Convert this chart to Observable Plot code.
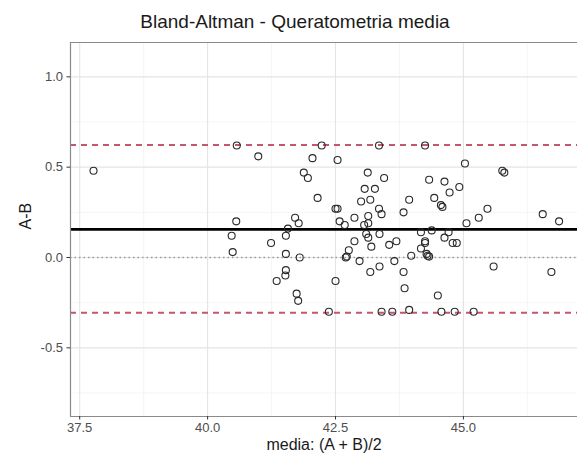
<!DOCTYPE html>
<html><head><meta charset="utf-8">
<script src="https://cdn.jsdelivr.net/npm/d3@7"></script>
<script src="https://cdn.jsdelivr.net/npm/@observablehq/plot@0.6"></script>
<style>
body{margin:0;background:#fff;overflow:hidden;font-family:"Liberation Sans",Arial,sans-serif;}
#title{width:590px;height:36px;box-sizing:border-box;padding-top:12px;font-size:19px;line-height:19px;text-align:center;color:#1a1a1a;white-space:nowrap;}
#chart svg{display:block;}
</style></head><body>
<div id="title">Bland-Altman - Queratometria media</div>
<div id="chart"></div>
<script>
const mediaAB = [37.77,40.57,40.99,42.05,42.54,42.23,41.88,41.96,42.15,42.50,42.54,43.13,43.45,43.07,43.27,43.00,43.18,43.35,44.25,43.94,
  43.83,43.35,43.40,43.14,42.87,42.58,42.68,43.06,43.14,40.56,40.47,40.49,41.71,41.78,41.57,41.53,41.24,41.53,41.80,41.53,
  41.52,41.35,41.74,41.77,42.37,43.10,43.14,43.36,42.87,43.20,43.55,43.69,42.76,42.70,42.72,42.97,43.65,43.98,44.17,44.25,
  44.17,44.28,43.18,43.36,43.83,42.50,43.85,43.40,43.61,43.94,45.03,45.76,45.80,44.33,44.63,44.92,44.73,44.43,44.56,44.59,
  45.47,45.30,46.55,46.87,45.06,44.38,44.71,44.63,44.79,44.87,44.25,44.30,44.33,45.59,46.72,44.50,44.57,44.83,45.20];
const diffAB = [0.48,0.62,0.56,0.55,0.54,0.62,0.47,0.44,0.33,0.27,0.27,0.47,0.44,0.38,0.38,0.31,0.32,0.62,0.62,0.32,
  0.25,0.27,0.24,0.23,0.22,0.20,0.18,0.18,0.19,0.20,0.12,0.03,0.22,0.19,0.16,0.12,0.08,0.02,0.00,-0.07,
  -0.10,-0.13,-0.20,-0.24,-0.30,0.13,0.11,0.13,0.09,0.06,0.07,0.09,0.04,0.00,0.005,-0.02,-0.02,0.01,0.14,0.09,
  0.05,0.02,-0.08,-0.05,-0.08,-0.13,-0.17,-0.30,-0.30,-0.29,0.52,0.48,0.47,0.43,0.42,0.39,0.36,0.33,0.29,0.28,
  0.27,0.22,0.24,0.20,0.19,0.15,0.14,0.11,0.08,0.08,0.08,0.01,0.005,-0.05,-0.08,-0.21,-0.30,-0.30,-0.30];
const meanDiff = 0.156;
const upperLoA = 0.622;
const lowerLoA = -0.306;
const zeroLine = 0;
const xTicks = [37.5, 40, 42.5, 45];
const yTicks = [-0.5, 0, 0.5, 1.0];
const xMinor = [38.75, 41.25, 43.75, 46.25];
const yMinor = [-0.75, -0.25, 0.25, 0.75];
const xDomain = [37.32, 47.23];
const yDomain = [-0.88, 1.19];
const xLabel = "media: (A + B)/2";
const yLabel = "A-B";

const points = mediaAB.map((m, i) => ({media: m, diff: diffAB[i]}));

const chart = Plot.plot({
  width: 577,
  height: 425,
  marginLeft: 70,
  marginRight: 0,
  marginTop: 6,
  marginBottom: 45,
  style: {fontFamily: "'Liberation Sans', Arial, sans-serif", fontSize: "13px", color: "#4d4d4d", background: "#fff"},
  x: {domain: xDomain},
  y: {domain: yDomain},
  marks: [
    Plot.ruleX(xMinor, {stroke: "#f0f0f0", strokeWidth: 0.7}),
    Plot.ruleY(yMinor, {stroke: "#f0f0f0", strokeWidth: 0.7}),
    Plot.ruleX(xTicks, {stroke: "#e4e4e4", strokeWidth: 1.1}),
    Plot.ruleY(yTicks, {stroke: "#e4e4e4", strokeWidth: 1.1}),
    Plot.ruleY([zeroLine], {stroke: "#9a9a9a", strokeWidth: 1.5, strokeDasharray: "1.5,3"}),
    Plot.ruleY([upperLoA, lowerLoA], {stroke: "#c4566e", strokeWidth: 2, strokeDasharray: "6,5"}),
    Plot.ruleY([meanDiff], {stroke: "#000", strokeWidth: 2.8}),
    Plot.dot(points, {x: "media", y: "diff", r: 3.5, stroke: "#2a2a2a", strokeWidth: 1.1, fill: "none"}),
    Plot.ruleX([xDomain[0]], {stroke: "#8a8a8a", strokeWidth: 1.2}),
    Plot.ruleY(yDomain, {stroke: "#8a8a8a", strokeWidth: 1.2}),
    Plot.axisX({ticks: xTicks, tickFormat: d => d.toFixed(1), tickSize: 3.5, tickPadding: 3, label: null, stroke: "#333", fontSize: 13}),
    Plot.axisY({ticks: yTicks, tickFormat: d => d.toFixed(1), tickSize: 3.5, tickPadding: 4, label: null, stroke: "#333", fontSize: 13}),
    Plot.text([xLabel], {frameAnchor: "bottom", dy: 33, fill: "#1a1a1a", fontSize: 16}),
    Plot.text([yLabel], {frameAnchor: "left", dx: -45, rotate: -90, fill: "#1a1a1a", fontSize: 16})
  ]
});
document.getElementById("chart").appendChild(chart);
</script>
</body></html>
